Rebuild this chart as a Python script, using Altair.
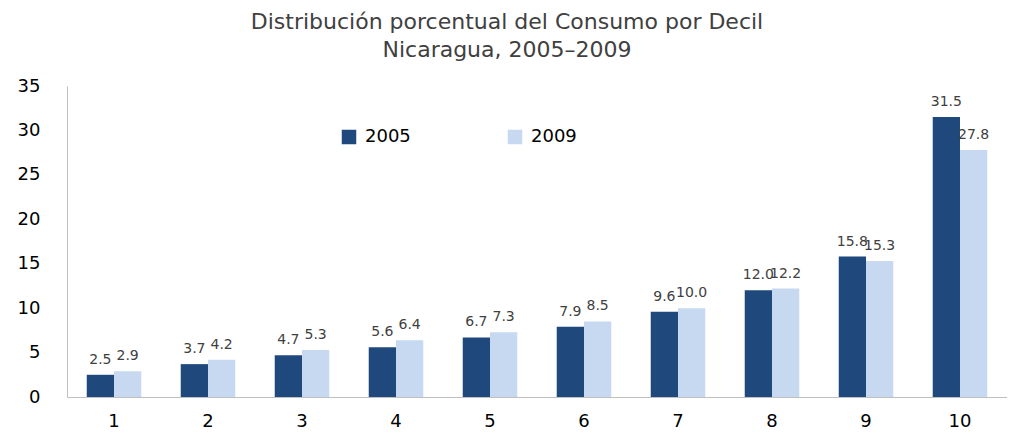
import altair as alt
import pandas as pd

deciles = ["1", "2", "3", "4", "5", "6", "7", "8", "9", "10"]
v2005 = [2.5, 3.7, 4.7, 5.6, 6.7, 7.9, 9.6, 12.0, 15.8, 31.5]
v2009 = [2.9, 4.2, 5.3, 6.4, 7.3, 8.5, 10.0, 12.2, 15.3, 27.8]
years = ["2005", "2009"]
colors = ["#1F497D", "#C6D9F1"]

rows = []
for d, a, b in zip(deciles, v2005, v2009):
    rows.append({"decil": d, "anio": "2005", "valor": a})
    rows.append({"decil": d, "anio": "2009", "valor": b})
df = pd.DataFrame(rows)

x = alt.X("decil:N", sort=deciles, title=None,
          scale=alt.Scale(paddingInner=0.42, paddingOuter=0.21),
          axis=alt.Axis(labelAngle=0, ticks=False, domainColor="#BFBFBF",
                        labelFont="DejaVu Sans", labelFontSize=18, labelColor="#000000",
                        labelPadding=15))
xo = alt.XOffset("anio:N", sort=years)

bars = alt.Chart(df).mark_bar().encode(
    x=x, xOffset=xo,
    y=alt.Y("valor:Q", title=None,
            scale=alt.Scale(domain=[0, 35]),
            axis=alt.Axis(values=[0, 5, 10, 15, 20, 25, 30, 35], grid=False, ticks=False,
                          domainColor="#BFBFBF", labelFont="DejaVu Sans", labelFontSize=18,
                          labelColor="#000000", labelPadding=27)),
    color=alt.Color("anio:N", sort=years, title=None,
                    scale=alt.Scale(domain=years, range=colors),
                    legend=alt.Legend(orient="none", legendX=273, legendY=42,
                                      direction="horizontal", symbolType="square",
                                      symbolSize=210, symbolStrokeWidth=0,
                                      labelFont="DejaVu Sans", labelFontSize=18,
                                      labelColor="#000000", columnPadding=95,
                                      labelOffset=7)),
)

labels = alt.Chart(df).mark_text(baseline="bottom", dy=-8, font="DejaVu Sans",
                                 fontSize=14, color="#404040").encode(
    x=x, xOffset=xo, y="valor:Q",
    text=alt.Text("valor:Q", format=".1f"),
)

chart = (bars + labels).properties(
    width=940, height=311,
    autosize=alt.AutoSizeParams(type="none"),
    padding={"left": 59, "top": 78, "right": 0, "bottom": 36},
    title=alt.Title(["Distribución porcentual del Consumo por Decil", "Nicaragua, 2005–2009"],
                    font="DejaVu Sans", fontSize=22, fontWeight="normal", color="#404040",
                    anchor="middle", dx=-30, offset=15, lineHeight=28),
).configure_view(stroke=None)

chart.save("out.html", embed_options={"renderer": "svg", "actions": False})
